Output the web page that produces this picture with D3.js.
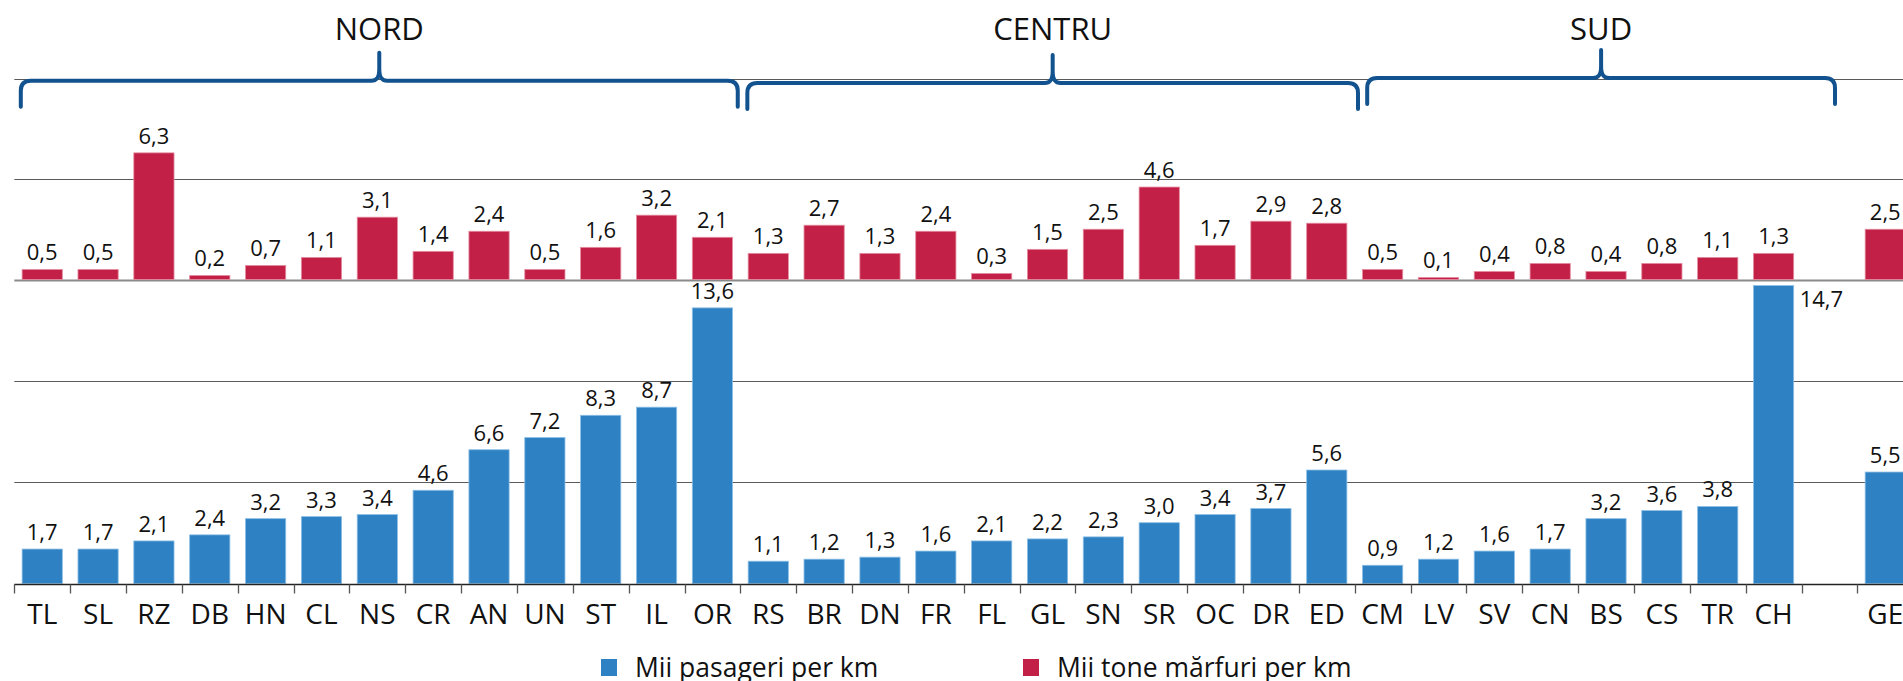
<!DOCTYPE html>
<meta charset="utf-8">
<style>

body {
  margin: 0;
  background: #fff;
}

svg text {
  font-family: "Open Sans", "Noto Sans", sans-serif;
  fill: #111;
}

.grid line {
  stroke: #5a5a5a;
  stroke-width: 1.2;
}

.brace {
  fill: none;
  stroke: #12528e;
  stroke-width: 4;
  stroke-linecap: round;
  stroke-linejoin: round;
}

.tick-mark {
  stroke: #555;
  stroke-width: 1.3;
}

.value-label {
  font-size: 22px;
}

</style>
<svg width="1903" height="681"></svg>
<script src="https://d3js.org/d3.v7.min.js"></script>
<script>

// region codes, "" is the gap before the national value
var categories = ["TL", "SL", "RZ", "DB", "HN", "CL", "NS", "CR", "AN", "UN", "ST", "IL", "OR",
                  "RS", "BR", "DN", "FR", "FL", "GL", "SN", "SR", "OC", "DR", "ED",
                  "CM", "LV", "SV", "CN", "BS", "CS", "TR", "CH", "", "GE"];

// Mii pasageri per km
var passengers = [1.7, 1.7, 2.1, 2.4, 3.2, 3.3, 3.4, 4.6, 6.6, 7.2, 8.3, 8.7, 13.6,
                  1.1, 1.2, 1.3, 1.6, 2.1, 2.2, 2.3, 3.0, 3.4, 3.7, 5.6,
                  0.9, 1.2, 1.6, 1.7, 3.2, 3.6, 3.8, 14.7, null, 5.5];

// Mii tone marfuri per km
var freight = [0.5, 0.5, 6.3, 0.2, 0.7, 1.1, 3.1, 1.4, 2.4, 0.5, 1.6, 3.2, 2.1,
               1.3, 2.7, 1.3, 2.4, 0.3, 1.5, 2.5, 4.6, 1.7, 2.9, 2.8,
               0.5, 0.1, 0.4, 0.8, 0.4, 0.8, 1.1, 1.3, null, 2.5];

var groups = ["NORD", "CENTRU", "SUD"];
var groupFirst = ["TL", "RS", "CM"];
var groupLast = ["OR", "ED", "CH"];

var seriesNames = ["Mii pasageri per km", "Mii tone mărfuri per km"];
var colors = ["#2e82c3", "#c22046"];
var edgeColors = ["#8dbfe6", "#e58da0"];

var svg = d3.select("svg"),
    width = +svg.attr("width"),
    height = +svg.attr("height");

var left = 14.3,
    step = 55.85;

// band boundaries (ticks + labels)
var x = d3.scaleBand()
    .domain(categories)
    .range([left, left + step * categories.length]);

// bars sit inside the bands
var xBar = d3.scaleBand()
    .domain(categories)
    .range([left, left + step * categories.length])
    .paddingInner(0.28)
    .paddingOuter(0.14);

var yPass = d3.scaleLinear().domain([0, 15]).range([583.5, 279.5]);
var yFreight = d3.scaleLinear().domain([0, 10]).range([279.5, 78.5]);

function fmt(v) { return d3.format(".1f")(v).replace(".", ","); }

// grid
var grid = svg.append("g").attr("class", "grid");
var gridYs = [yFreight(10), yFreight(5), yFreight(0), yPass(10), yPass(5)];
grid.selectAll("line")
  .data(gridYs)
  .enter().append("line")
    .attr("x1", left)
    .attr("x2", width)
    .attr("y1", function(d) { return Math.round(d) + 0.5; })
    .attr("y2", function(d) { return Math.round(d) + 0.5; });

grid.select("line:nth-child(3)").style("stroke", "#8a8a8a").style("stroke-width", 1.8);

// bars
var pass = categories.map(function(c, i) { return {cat: c, v: passengers[i]}; })
    .filter(function(d) { return d.v != null; });
var frt = categories.map(function(c, i) { return {cat: c, v: freight[i]}; })
    .filter(function(d) { return d.v != null; });

svg.append("g").selectAll("rect")
  .data(frt)
  .enter().append("rect")
    .attr("x", function(d) { return xBar(d.cat); })
    .attr("width", xBar.bandwidth())
    .attr("y", function(d) { return yFreight(d.v); })
    .attr("height", function(d) { return yFreight(0) - yFreight(d.v); })
    .attr("fill", colors[1])
    .attr("stroke", edgeColors[1])
    .attr("stroke-width", 0.8);

svg.append("g").selectAll("rect")
  .data(pass)
  .enter().append("rect")
    .attr("x", function(d) { return xBar(d.cat); })
    .attr("width", xBar.bandwidth())
    .attr("y", function(d) { return yPass(d.v); })
    .attr("height", function(d) { return yPass(0) - yPass(d.v); })
    .attr("fill", colors[0])
    .attr("stroke", edgeColors[0])
    .attr("stroke-width", 0.8);

// value labels
svg.append("g").selectAll("text")
  .data(frt)
  .enter().append("text")
    .attr("class", "value-label")
    .attr("text-anchor", "middle")
    .attr("x", function(d) { return xBar(d.cat) + xBar.bandwidth() / 2; })
    .attr("y", function(d) { return yFreight(d.v) - 9; })
    .text(function(d) { return fmt(d.v); });

svg.append("g").selectAll("text")
  .data(pass)
  .enter().append("text")
    .attr("class", "value-label")
    .each(function(d) {
      var t = d3.select(this),
          top = yPass(d.v);
      if (top - 25 < yFreight(0)) {
        // no room under the freight bars -> put it beside the bar
        t.attr("text-anchor", "start")
         .attr("x", xBar(d.cat) + xBar.bandwidth() + 6)
         .attr("y", top + 21);
      } else {
        t.attr("text-anchor", "middle")
         .attr("x", xBar(d.cat) + xBar.bandwidth() / 2)
         .attr("y", top - 9);
      }
    })
    .text(function(d) { return fmt(d.v); });

// x axis
var base = Math.round(yPass(0)) + 0.5;
svg.append("line")
    .attr("x1", left).attr("x2", width)
    .attr("y1", base).attr("y2", base)
    .attr("stroke", "#222").attr("stroke-width", 1.3);

svg.append("g").selectAll("line")
  .data(categories)
  .enter().append("line")
    .attr("class", "tick-mark")
    .attr("x1", function(d) { return Math.round(x(d)) + 0.5; })
    .attr("x2", function(d) { return Math.round(x(d)) + 0.5; })
    .attr("y1", base)
    .attr("y2", base + 9);

var axis = svg.append("g")
    .attr("transform", "translate(0," + yPass(0) + ")")
    .call(d3.axisBottom(x).tickSize(0).tickSizeOuter(0));
axis.select(".domain").remove();
axis.selectAll("text")
    .attr("y", 40)
    .attr("dy", 0)
    .style("font-size", "28px")
    .style("font-family", "'Open Sans', sans-serif")
    .attr("fill", "#111");

// braces over the regions
var braceOffsets = [[6.5, -2.6], [7, 3.3], [12.5, 33.5]];
var braceY = [80.7, 83, 78];

function bracePath(x1, x2, y) {
  var r = 10, drop = 26, peak = 28, mid = (x1 + x2) / 2;
  return "M" + x1 + "," + (y + drop) +
    "L" + x1 + "," + (y + r) +
    "Q" + x1 + "," + y + " " + (x1 + r) + "," + y +
    "L" + (mid - 8) + "," + y +
    "C" + (mid - 2) + "," + y + " " + mid + "," + (y - 4) + " " + mid + "," + (y - 12) +
    "L" + mid + "," + (y - peak) +
    "L" + mid + "," + (y - 12) +
    "C" + mid + "," + (y - 4) + " " + (mid + 2) + "," + y + " " + (mid + 8) + "," + y +
    "L" + (x2 - r) + "," + y +
    "Q" + x2 + "," + y + " " + x2 + "," + (y + r) +
    "L" + x2 + "," + (y + drop);
}

groups.forEach(function(g, i) {
  var x1 = x(groupFirst[i]) + braceOffsets[i][0],
      x2 = x(groupLast[i]) + x.bandwidth() + braceOffsets[i][1];
  svg.append("path")
      .attr("class", "brace")
      .attr("d", bracePath(x1, x2, braceY[i]));
  svg.append("text")
      .attr("x", (x1 + x2) / 2)
      .attr("y", 40)
      .attr("text-anchor", "middle")
      .style("font-size", "31px")
      .text(g);
});

// legend
var legendX = [601, 1023];
var legend = svg.append("g").selectAll("g")
  .data(seriesNames)
  .enter().append("g")
    .attr("transform", function(d, i) { return "translate(" + legendX[i] + ",659)"; });

legend.append("rect")
    .attr("width", 16)
    .attr("height", 17)
    .attr("fill", function(d, i) { return colors[i]; });

legend.append("text")
    .attr("x", 34)
    .attr("y", 18)
    .style("font-size", "26.5px")
    .text(function(d) { return d; });

</script>
